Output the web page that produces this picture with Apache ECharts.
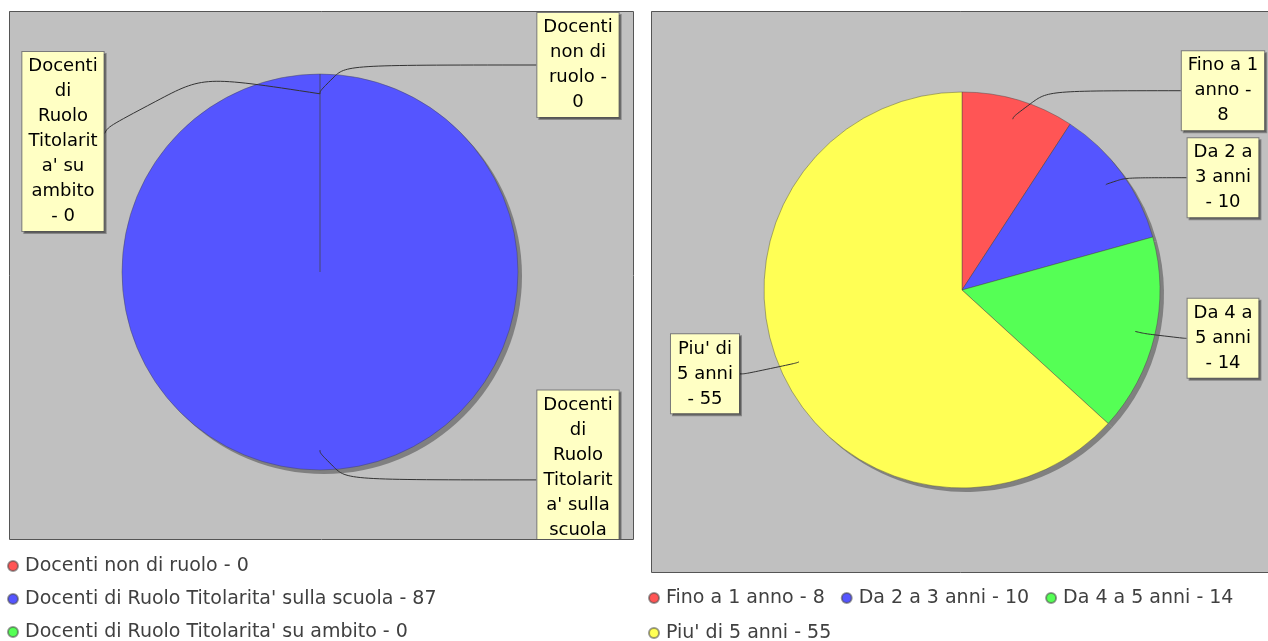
<!DOCTYPE html>
<html>
<head>
<meta charset="utf-8">
<script src="https://cdn.jsdelivr.net/npm/echarts@6/dist/echarts.min.js"></script>
<style>
  html, body { margin: 0; padding: 0; background: #fff; }
  #chart { width: 1268px; height: 641px; }
</style>
</head>
<body>
<div id="chart"></div>
<script>
// pie di sinistra: tipologia docenti
const ruoloNames = ['Docenti non di ruolo', "Docenti di Ruolo Titolarita' sulla scuola", "Docenti di Ruolo Titolarita' su ambito"]
const ruoloValues = [0, 87, 0]
const ruoloLabels = [
  'Docenti\nnon di\nruolo -\n0',
  "Docenti\ndi\nRuolo\nTitolarit\na' sulla\nscuola\n- 87",
  "Docenti\ndi\nRuolo\nTitolarit\na' su\nambito\n- 0"
]

// pie di destra: anni di servizio
const anniNames = ['Fino a 1 anno', 'Da 2 a 3 anni', 'Da 4 a 5 anni', "Piu' di 5 anni"]
const anniValues = [8, 10, 14, 55]
const anniLabels = ['Fino a 1\nanno -\n8', 'Da 2 a\n3 anni\n- 10', 'Da 4 a\n5 anni\n- 14', "Piu' di\n5 anni\n- 55"]

const sliceColors = ['#ff5555', '#5555ff', '#55ff55', '#ffff55']

const FONT = 'DejaVu Sans'
const LINE_H = 25
const PAD_V = 2

// plot areas [x, y, w, h], pie centre and radius
const panels = [
  { plot: [9, 11, 624, 528], center: [320, 272], r: 198 },
  { plot: [651, 11, 627, 561], center: [962, 290], r: 198 }
]

function computeBoxes(p, values, labels) {
  const { plot, center, r } = panels[p]
  const total = values.reduce((a, b) => a + b, 0)
  let acc = 0
  const boxes = values.map((v, i) => {
    const mid = (acc + v / 2) / total * 2 * Math.PI
    acc += v
    const dir = [Math.sin(mid), -Math.cos(mid)]
    const side = mid > Math.PI ? -1 : 1
    const h = labels[i].split('\n').length * LINE_H + PAD_V * 2
    const cy = center[1] + dir[1] * r * 1.05
    let top = cy - h / 2
    top = Math.max(top, plot[1] + (side < 0 ? 41 : 2))
    return {
      side, dir, h, top,
      cx: side > 0 ? plot[0] + plot[2] - 55 : plot[0] + 54,
      anchor: [center[0] + dir[0] * r * 0.9, center[1] + dir[1] * r * 0.9]
    }
  })
  // keep labels of the same column apart
  ;[1, -1].forEach(s => {
    const col = boxes.filter(b => b.side === s).sort((a, b) => a.top - b.top)
    for (let i = 1; i < col.length; i++) {
      const prev = col[i - 1]
      if (col[i].top < prev.top + prev.h + 8) col[i].top = prev.top + prev.h + 8
    }
  })
  return boxes
}

function labelLayoutFor(p, values, labels) {
  const boxes = computeBoxes(p, values, labels)
  const r = panels[p].r
  return function (params) {
    const b = boxes[params.dataIndex]
    const w = params.labelRect.width
    const end = [b.side > 0 ? b.cx - w / 2 : b.cx + w / 2, b.top + b.h / 2]
    const t = (end[1] - b.anchor[1]) / b.dir[1]
    let elbow
    if (isFinite(t) && t > 0 && t < r * 0.4) {
      elbow = [b.anchor[0] + b.dir[0] * t, end[1]]
    } else {
      // label sits below the anchor: arc over and drop into the box
      end[1] -= 8
      elbow = [end[0] + 0.15 * (b.anchor[0] - end[0]), b.anchor[1] - 28]
    }
    return {
      x: b.cx,
      y: b.top,
      align: 'center',
      verticalAlign: 'top',
      labelLinePoints: [b.anchor, elbow, end]
    }
  }
}

const sliceBorder = { borderColor: 'rgba(70,70,70,0.55)', borderWidth: 0.8 }

// coloured slices
function pieSeries(p, names, values) {
  const { center, r } = panels[p]
  return {
    type: 'pie',
    center: center,
    radius: r,
    startAngle: 90,
    clockwise: true,
    z: 3,
    data: names.map((n, i) => ({ name: n, value: values[i], itemStyle: { color: sliceColors[i] } })),
    itemStyle: sliceBorder,
    label: { show: false },
    labelLine: { show: false },
    emphasis: { disabled: true }
  }
}

// drop shadow under the pie
function shadowSeries(p, names, values) {
  const { center, r } = panels[p]
  return {
    type: 'pie',
    center: [center[0] + 4, center[1] + 4],
    radius: r,
    silent: true,
    z: 2,
    data: names.map((n, i) => ({ name: n, value: values[i] })),
    itemStyle: { color: '#808080' },
    label: { show: false },
    labelLine: { show: false },
    emphasis: { disabled: true }
  }
}

// transparent copy on top that carries the labels, so the links show over the slices
function labelSeries(p, names, values, labels) {
  const { center, r } = panels[p]
  return {
    type: 'pie',
    center: center,
    radius: r,
    startAngle: 90,
    clockwise: true,
    avoidLabelOverlap: false,
    silent: true,
    z: 4,
    data: names.map((n, i) => ({ name: n, value: values[i] })),
    itemStyle: { color: 'rgba(0,0,0,0)', borderWidth: 0 },
    label: {
      show: true,
      position: 'outside',
      formatter: params => labels[params.dataIndex],
      fontFamily: FONT,
      fontSize: 18,
      lineHeight: LINE_H,
      color: '#000',
      backgroundColor: '#ffffc4',
      borderColor: '#7a7a7a',
      borderWidth: 1,
      padding: [PAD_V, 6],
      shadowColor: 'rgba(0,0,0,0.3)',
      shadowOffsetX: 2,
      shadowOffsetY: 2,
      shadowBlur: 0
    },
    labelLine: {
      show: true,
      smooth: 0.9,
      lineStyle: { color: '#333', width: 1 }
    },
    labelLayout: labelLayoutFor(p, values, labels),
    emphasis: { disabled: true }
  }
}

const chart = echarts.init(document.getElementById('chart'))
chart.setOption({
  animation: false,
  backgroundColor: '#fff',
  legend: [
    {
      data: ruoloNames,
      orient: 'vertical',
      left: 7,
      top: 555.5,
      height: 120,
      padding: 0,
      itemGap: 12,
      itemWidth: 14,
      itemHeight: 10,
      icon: 'circle',
      textStyle: { fontFamily: FONT, fontSize: 19, color: '#404040', lineHeight: 21 },
      formatter: n => n + ' - ' + ruoloValues[ruoloNames.indexOf(n)]
    },
    {
      data: anniNames,
      orient: 'horizontal',
      left: 648,
      top: 588.5,
      width: 616,
      height: 80,
      padding: 0,
      itemGap: 16,
      itemWidth: 14,
      itemHeight: 10,
      icon: 'circle',
      textStyle: { fontFamily: FONT, fontSize: 19, color: '#404040', lineHeight: 17 },
      formatter: n => n + ' - ' + anniValues[anniNames.indexOf(n)]
    }
  ],
  graphic: [
    { type: 'rect', z: 0, shape: { x: 9, y: 11, width: 624, height: 528 }, style: { fill: '#c0c0c0' } },
    { type: 'rect', z: 0, shape: { x: 651, y: 11, width: 627, height: 561 }, style: { fill: '#c0c0c0' } },
    // clip the label that runs past the plot bottom
    { type: 'rect', z: 99, shape: { x: 520, y: 540, width: 120, height: 40 }, style: { fill: '#fff' } },
    { type: 'rect', z: 100, shape: { x: 9.5, y: 11.5, width: 624, height: 528 }, style: { fill: null, stroke: '#555', lineWidth: 1 } },
    { type: 'rect', z: 100, shape: { x: 651.5, y: 11.5, width: 627, height: 561 }, style: { fill: null, stroke: '#555', lineWidth: 1 } }
  ],
  series: [
    pieSeries(0, ruoloNames, ruoloValues),
    pieSeries(1, anniNames, anniValues),
    shadowSeries(0, ruoloNames, ruoloValues),
    shadowSeries(1, anniNames, anniValues),
    labelSeries(0, ruoloNames, ruoloValues, ruoloLabels),
    labelSeries(1, anniNames, anniValues, anniLabels)
  ]
})

window.addEventListener('resize', () => chart.resize())
</script>
</body>
</html>
